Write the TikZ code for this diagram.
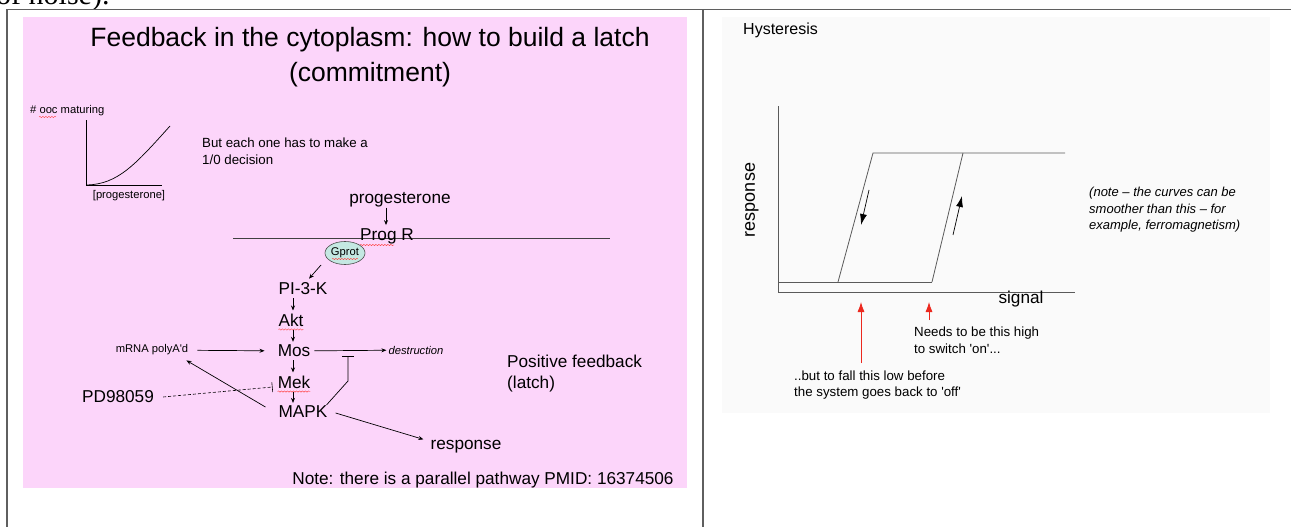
\documentclass[tikz,border=0pt]{standalone}
\usepackage{fontspec}
\setmainfont{Liberation Sans}
\newfontfamily\serifrm{Liberation Serif}
\usetikzlibrary{arrows.meta,calc,shapes.geometric,decorations.pathmorphing}
\definecolor{slidepink}{RGB}{252,213,250}
\definecolor{gprotfill}{RGB}{196,232,226}
\definecolor{framegray}{RGB}{95,95,95}
\definecolor{axisgray}{RGB}{90,90,90}
\definecolor{arrowred}{RGB}{236,40,30}
\definecolor{panelgray}{RGB}{250,250,250}
\begin{document}
\begin{tikzpicture}[x=1pt,y=-1pt,
  every node/.style={inner sep=1pt},
  t26/.style={font=\fontsize{26.5}{31}\selectfont},
  t18/.style={font=\fontsize{18}{21}\selectfont},
  t17/.style={font=\fontsize{17.2}{21}\selectfont},
  t16/.style={font=\fontsize{16}{19}\selectfont},
  t13/.style={font=\fontsize{13.3}{16.5}\selectfont},
  t13i/.style={font=\fontsize{13}{16.5}\selectfont\itshape},
  t11/.style={font=\fontsize{11.2}{13}\selectfont},
  t11i/.style={font=\fontsize{11.2}{13}\selectfont\itshape},
  arr/.style={draw=black, line width=0.7pt, -{Stealth[length=5pt,width=4pt]}},
  bigarr/.style={draw=black, line width=0.7pt, -{Latex[length=11pt,width=7pt]}},
  redarr/.style={draw=arrowred, line width=0.8pt, -{Latex[length=10pt,width=7pt]}},
  inhib/.style={draw=black, line width=0.7pt, -{Bar[width=12pt]}},
  plotline/.style={draw=axisgray, line width=0.8pt},
  squig/.style={draw=red!75, line width=0.4pt, decorate, decoration={snake, amplitude=0.7pt, segment length=3pt}},
  ]
\useasboundingbox (0,0) rectangle (1291,527);
% cropped line of text above the table
\begin{scope}
\clip (0,0) rectangle (1291,9);
\node[anchor=base west, inner sep=0, font=\serifrm\fontsize{30}{32}\selectfont] (noise) at (-4,4.5) {of noise).};
\end{scope}
% table frame
\draw[framegray, line width=1.4pt] (7,527) -- (7,9.5) -- (1291,9.5);
\draw[framegray, line width=1.4pt] (703,9.5) -- (703,527);
% panels
\fill[slidepink] (23,17) rectangle (687,488);
\fill[panelgray] (722,17) rectangle (1270,413);

% ---------- left slide ----------
\node[t26] (title1) at (370,40) {Feedback in the cytoplasm: how to build a latch};
\node[t26] (title2) at (370,75) {(commitment)};

\node[t11, anchor=west] (ooc) at (29,111) {\# ooc maturing};
\draw[squig] ($(ooc.west)+(10,6)$) -- ($(ooc.west)+(27,6)$);
\draw[line width=0.7pt] (86,120) -- (86,185) -- (162,185);
\draw[line width=0.7pt] (87,185) .. controls (118,184) and (135,165) .. (170,126);
\node[t11] (progax) at (129,196) {[progesterone]};
\node[t13, anchor=west, align=left] (each) at (201,151) {But each one has to make a\\1/0 decision};

\node[t17] (prog) at (400,200) {progesterone};
\draw[line width=0.8pt, black!75] (233,238) -- (610,238);
\node[t17] (progR) at (387,236) {Prog R};
\draw[squig] ($(progR.west)+(1,9)$) -- ($(progR.west)+(35,9)$);
\draw[arr] ($(prog.south)+(-14,-1)$) -- ($(progR.north)+(-1,-2)$);
\node[ellipse, draw=black!70, line width=0.6pt, fill=gprotfill, minimum width=40pt, minimum height=23pt, inner sep=0, t11] (gprot) at (345,253) {Gprot};
\draw[squig] ($(gprot.center)+(-13,6)$) -- ($(gprot.center)+(13,6)$);
\node[t17] (pi) at (303,289) {PI-3-K};
\draw[arr] ($(gprot.center)+(-24,12)$) -- ($(pi.north)+(6,-3)$);
\coordinate (axisx) at (293,0);
\node[t17] (akt) at (291,320) {Akt};
\draw[squig] ($(akt.south west)+(1,2)$) -- ($(akt.south east)+(-1,2)$);
\node[t17] (mos) at (294,351) {Mos};
\node[t17] (mek) at (294,382) {Mek};
\draw[squig] ($(mek.south west)+(1,2)$) -- ($(mek.south east)+(-1,2)$);
\node[t17] (mapk) at (303,412) {MAPK};
\draw[arr, shorten <=2pt, shorten >=2pt] (pi.south -| axisx) -- (akt.north -| axisx);
\draw[arr, shorten <=2pt, shorten >=2pt] (akt.south -| axisx) -- (mos.north -| axisx);
\draw[arr, shorten <=2pt, shorten >=2pt] (mos.south -| axisx) -- (mek.north -| axisx);
\draw[arr, shorten <=2pt, shorten >=2pt] (mek.south -| axisx) -- (mapk.north -| axisx);

\node[t11] (mrna) at (152,350) {mRNA polyA\textquotesingle d};
\draw[arr, shorten <=8pt, shorten >=12pt] (mrna) -- (mos);
\node[t11i] (destr) at (416,350) {destruction};
\draw[arr, shorten <=3pt, shorten >=1pt] (mos) -- (destr);

\node[t17] (pd) at (118,397) {PD98059};
\draw[line width=0.6pt, dash pattern=on 3pt off 2pt, -{Bar[width=10pt]}] ($(pd.east)+(8,0)$) -- ($(mek.west)+(-4,5)$);
\draw[arr] ($(mapk.west)+(-12,-5)$) -- ($(mrna.south east)+(-3,4)$);
\coordinate (inhbend) at (348,381);
\coordinate (inhtee) at (348,356);
\draw[inhib] ($(mapk.north east)+(-2,0)$) -- (inhbend) -- (inhtee);

\node[t17] (resp) at (466,447) {response};
\draw[arr] ($(mapk.east)+(7,1)$) -- ($(resp.north west)+(-6,0)$);

\node[t17, anchor=west, align=left] (pf) at (506,374) {Positive feedback\\(latch)};
\node[t17] (note) at (483,480) {Note: there is a parallel pathway PMID: 16374506};

% ---------- right panel: hysteresis ----------
\node[t16, anchor=west] (hyst) at (742,30) {Hysteresis};
\draw[plotline] (778.5,106) -- (778.5,292) -- (1075,292);
\draw[plotline] (778.5,282) -- (932,282);
\draw[plotline] (838,282) -- (873,153) -- (1065,153);
\draw[plotline] (932,282) -- (963,153);
\coordinate (dnA) at (869,190);
\coordinate (dnB) at (861,225);
\coordinate (upA) at (953,235);
\coordinate (upB) at (962,196);
\draw[bigarr] (dnA) -- (dnB);
\draw[bigarr] (upA) -- (upB);
\node[t18, rotate=90] (respax) at (752,200) {response};
\node[t17] (signal) at (1021,299) {signal};
\node[t13i, anchor=north west, align=left] (curvenote) at (1088,186) {(note – the curves can be\\smoother than this – for\\example, ferromagnetism)};

\coordinate (lowA) at (861,363);
\coordinate (lowB) at (861,302);
\coordinate (highA) at (929,320);
\coordinate (highB) at (929,302);
\draw[redarr] (lowA) -- (lowB);
\draw[redarr] (highA) -- (highB);
\node[t13, anchor=west, align=left] (needs) at (913,340) {Needs to be this high\\to switch \textquotesingle on\textquotesingle...};
\node[t13, anchor=west, align=left] (fall) at (793,385) {..but to fall this low before\\the system goes back to \textquotesingle off\textquotesingle};
\end{tikzpicture}
\end{document}
